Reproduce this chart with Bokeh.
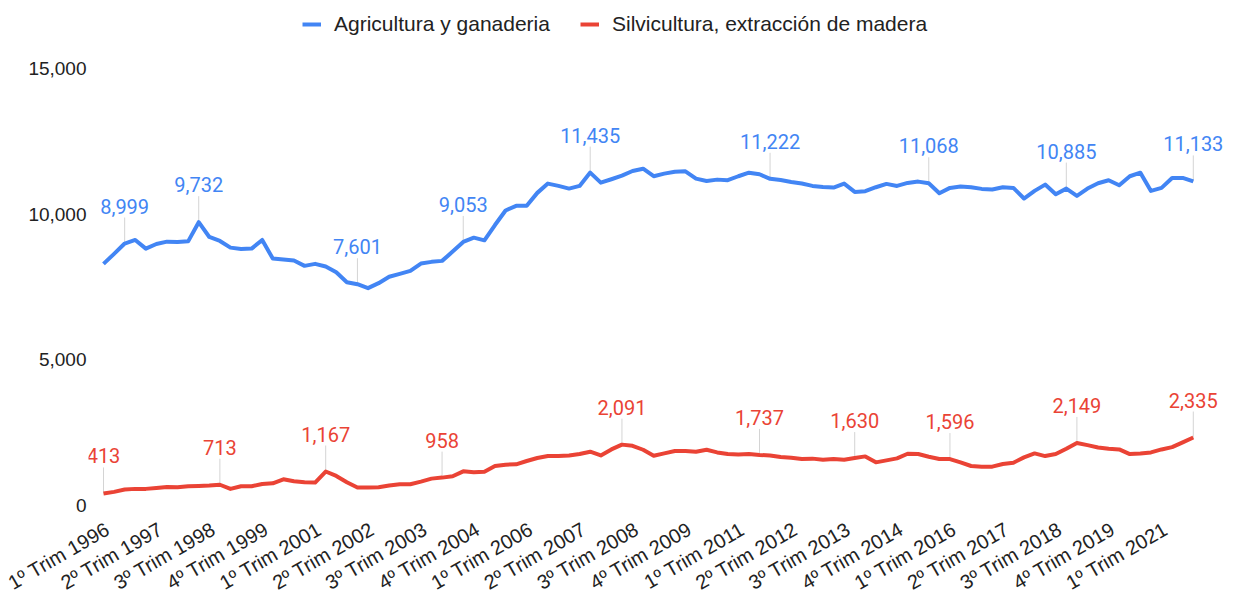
import math
from bokeh.plotting import figure
from bokeh.models import (ColumnDataSource, Range1d, FixedTicker, Legend, LegendItem,
                          NumeralTickFormatter, LabelSet)
from bokeh.core.properties import value
from bokeh.embed import file_html
from bokeh.resources import INLINE

# Quarterly values, 1º Trim 1996 .. 4º Trim 2021
agri = [8300, 8642, 8999, 9121, 8824, 8984, 9063, 9053, 9073, 9732,
        9224, 9087, 8858, 8813, 8824, 9121, 8482, 8447, 8413, 8232,
        8300, 8208, 8013, 7671, 7601, 7466, 7637, 7856, 7958, 8061,
        8311, 8369, 8403, 8721, 9053, 9200, 9108, 9634, 10134, 10294,
        10294, 10739, 11057, 10978, 10886, 10978, 11435, 11091, 11207, 11331,
        11491, 11570, 11310, 11399, 11467, 11481, 11228, 11149, 11194, 11173,
        11310, 11433, 11378, 11222, 11180, 11115, 11060, 10978, 10944, 10921,
        11057, 10773, 10796, 10933, 11047, 10978, 11081, 11126, 11068, 10728,
        10910, 10955, 10933, 10876, 10853, 10933, 10910, 10545, 10807, 11023,
        10694, 10885, 10636, 10887, 11070, 11173, 11001, 11310, 11433, 10807,
        10910, 11252, 11252, 11133]

silv = [413, 468, 547, 571, 571, 605, 639, 627, 661, 673,
        684, 713, 571, 661, 661, 741, 764, 901, 832, 798,
        787, 1167, 1015, 798, 616, 616, 627, 684, 730, 730,
        821, 923, 958, 1003, 1174, 1140, 1163, 1357, 1402, 1414,
        1528, 1630, 1698, 1698, 1721, 1767, 1847, 1721, 1926, 2091,
        2052, 1915, 1710, 1789, 1870, 1870, 1847, 1915, 1824, 1767,
        1755, 1767, 1737, 1721, 1664, 1642, 1596, 1610, 1573, 1596,
        1573, 1630, 1687, 1482, 1550, 1619, 1778, 1767, 1676, 1596,
        1596, 1482, 1357, 1334, 1334, 1425, 1471, 1653, 1790, 1698,
        1767, 1949, 2149, 2075, 1995, 1949, 1926, 1767, 1790, 1824,
        1926, 2006, 2166, 2335]

tick_labels = ["1º Trim 1996", "2º Trim 1997", "3º Trim 1998", "4º Trim 1999",
               "1º Trim 2001", "2º Trim 2002", "3º Trim 2003", "4º Trim 2004",
               "1º Trim 2006", "2º Trim 2007", "3º Trim 2008", "4º Trim 2009",
               "1º Trim 2011", "2º Trim 2012", "3º Trim 2013", "4º Trim 2014",
               "1º Trim 2016", "2º Trim 2017", "3º Trim 2018", "4º Trim 2019",
               "1º Trim 2021"]

agri_marks = [2, 9, 24, 34, 46, 63, 78, 91, 103]
silv_marks = [0, 11, 21, 32, 49, 62, 71, 80, 92, 103]

series_names = ["Agricultura y ganaderia", "Silvicultura, extracción de madera"]

BLUE = "#4285F4"
RED = "#EA4335"
AX_FONT = "Liberation Sans"

x = list(range(len(agri)))

p = figure(width=1228, height=606, output_backend="svg", toolbar_location=None,
           x_range=Range1d(-1.418, 105.95), y_range=Range1d(-103, 17347),
           min_border_left=88, min_border_right=4, min_border_top=0, min_border_bottom=98)
p.outline_line_color = None
p.grid.visible = False
p.background_fill_color = "white"

# annotation stems
for marks, data in ((agri_marks, agri), (silv_marks, silv)):
    p.ray(x=marks, y=[data[i] for i in marks], length=26, length_units="screen",
          angle=math.pi / 2, line_color="#d4d4d4", line_width=1)

r1 = p.line(x, agri, line_color=BLUE, line_width=4, line_join="round")
r2 = p.line(x, silv, line_color=RED, line_width=4, line_join="round")

for marks, data, col in ((agri_marks, agri, BLUE), (silv_marks, silv, RED)):
    src = ColumnDataSource(dict(x=marks, y=[data[i] for i in marks],
                                t=[f"{data[i]:,}" for i in marks]))
    p.add_layout(LabelSet(x="x", y="y", text="t", source=src, y_offset=30,
                          text_align="center", text_baseline="alphabetic",
                          text_color=col, text_font=value("Roboto"),
                          text_font_size="20px"))

p.yaxis.ticker = FixedTicker(ticks=[0, 5000, 10000, 15000])
p.yaxis.formatter = NumeralTickFormatter(format="0,0")
xticks = [i * 5 + 0.4 for i in range(len(tick_labels))]
p.xaxis.ticker = FixedTicker(ticks=xticks)
p.xaxis.major_label_overrides = {t: lab for t, lab in zip(xticks, tick_labels)}
p.xaxis.major_label_orientation = math.pi / 6
for ax in (p.xaxis, p.yaxis):
    ax.axis_line_color = None
    ax.major_tick_line_color = None
    ax.minor_tick_line_color = None
    ax.major_tick_out = 0
    ax.major_tick_in = 0
    ax.major_label_text_font = AX_FONT
    ax.major_label_text_color = "#222222"
p.yaxis.major_label_text_font_size = "19px"
p.xaxis.major_label_text_font_size = "20px"
p.yaxis.major_label_standoff = 2
p.xaxis.major_label_standoff = 19

legend = Legend(items=[LegendItem(label=series_names[0], renderers=[r1]),
                       LegendItem(label=series_names[1], renderers=[r2])],
                orientation="horizontal", location=(214, 472), margin=0, padding=0,
                spacing=30, label_standoff=13, glyph_width=19, glyph_height=24,
                label_height=24, border_line_color=None, background_fill_alpha=0,
                label_text_font=AX_FONT, label_text_font_size="21px",
                label_text_color="#222222")
p.add_layout(legend)

open("out.html", "w").write(file_html(p, INLINE))
